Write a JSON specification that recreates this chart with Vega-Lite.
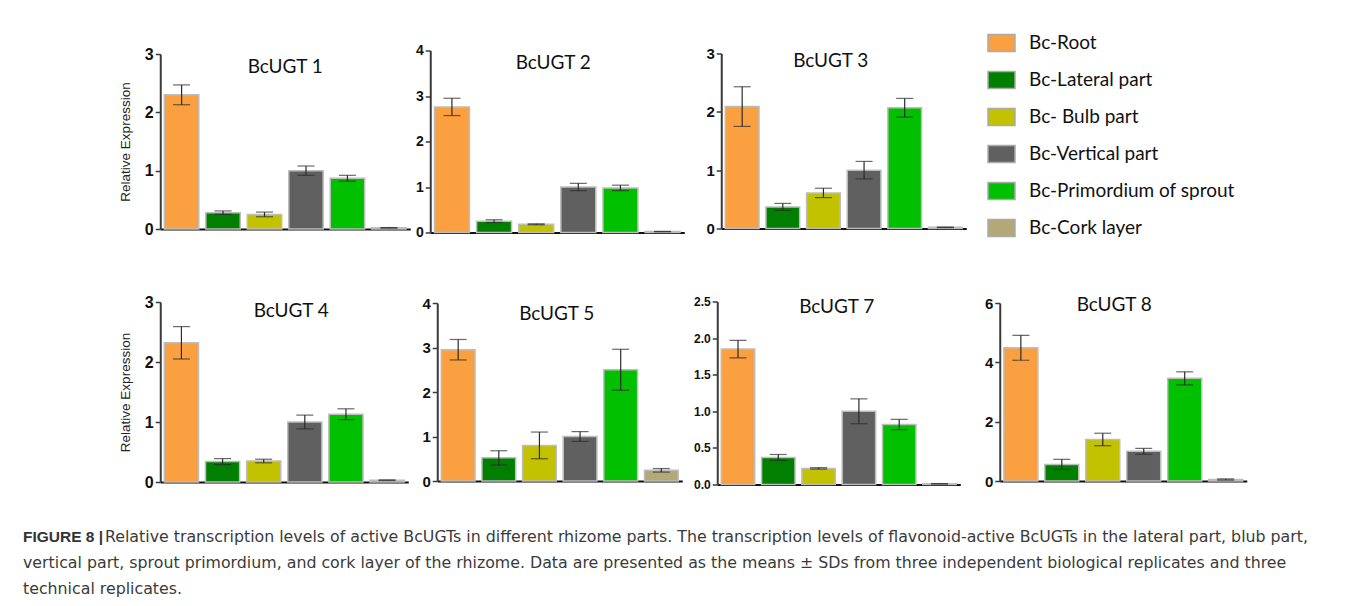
{
  "$schema": "https://vega.github.io/schema/vega-lite/v6.json",
  "background": "white",
  "padding": {"left": 23, "top": 28.5, "right": 0, "bottom": 0},
  "datasets": {
    "expr": [
      {"gene": "BcUGT 1", "part": "Bc-Root", "mean": 2.30, "sd": 0.17},
      {"gene": "BcUGT 1", "part": "Bc-Lateral part", "mean": 0.28, "sd": 0.03},
      {"gene": "BcUGT 1", "part": "Bc- Bulb part", "mean": 0.25, "sd": 0.04},
      {"gene": "BcUGT 1", "part": "Bc-Vertical  part", "mean": 1.00, "sd": 0.08},
      {"gene": "BcUGT 1", "part": "Bc-Primordium of sprout", "mean": 0.87, "sd": 0.05},
      {"gene": "BcUGT 1", "part": "Bc-Cork layer", "mean": 0.02, "sd": 0.005},
      {"gene": "BcUGT 2", "part": "Bc-Root", "mean": 2.76, "sd": 0.19},
      {"gene": "BcUGT 2", "part": "Bc-Lateral part", "mean": 0.25, "sd": 0.03},
      {"gene": "BcUGT 2", "part": "Bc- Bulb part", "mean": 0.18, "sd": 0.01},
      {"gene": "BcUGT 2", "part": "Bc-Vertical  part", "mean": 1.00, "sd": 0.08},
      {"gene": "BcUGT 2", "part": "Bc-Primordium of sprout", "mean": 0.98, "sd": 0.06},
      {"gene": "BcUGT 2", "part": "Bc-Cork layer", "mean": 0.02, "sd": 0.003},
      {"gene": "BcUGT 3", "part": "Bc-Root", "mean": 2.09, "sd": 0.34},
      {"gene": "BcUGT 3", "part": "Bc-Lateral part", "mean": 0.37, "sd": 0.06},
      {"gene": "BcUGT 3", "part": "Bc- Bulb part", "mean": 0.61, "sd": 0.08},
      {"gene": "BcUGT 3", "part": "Bc-Vertical  part", "mean": 1.00, "sd": 0.15},
      {"gene": "BcUGT 3", "part": "Bc-Primordium of sprout", "mean": 2.07, "sd": 0.16},
      {"gene": "BcUGT 3", "part": "Bc-Cork layer", "mean": 0.02, "sd": 0.005},
      {"gene": "BcUGT 4", "part": "Bc-Root", "mean": 2.32, "sd": 0.27},
      {"gene": "BcUGT 4", "part": "Bc-Lateral part", "mean": 0.34, "sd": 0.05},
      {"gene": "BcUGT 4", "part": "Bc- Bulb part", "mean": 0.35, "sd": 0.03},
      {"gene": "BcUGT 4", "part": "Bc-Vertical  part", "mean": 1.00, "sd": 0.115},
      {"gene": "BcUGT 4", "part": "Bc-Primordium of sprout", "mean": 1.13, "sd": 0.09},
      {"gene": "BcUGT 4", "part": "Bc-Cork layer", "mean": 0.03, "sd": 0.005},
      {"gene": "BcUGT 5", "part": "Bc-Root", "mean": 2.95, "sd": 0.23},
      {"gene": "BcUGT 5", "part": "Bc-Lateral part", "mean": 0.52, "sd": 0.16},
      {"gene": "BcUGT 5", "part": "Bc- Bulb part", "mean": 0.80, "sd": 0.30},
      {"gene": "BcUGT 5", "part": "Bc-Vertical  part", "mean": 1.00, "sd": 0.11},
      {"gene": "BcUGT 5", "part": "Bc-Primordium of sprout", "mean": 2.50, "sd": 0.46},
      {"gene": "BcUGT 5", "part": "Bc-Cork layer", "mean": 0.24, "sd": 0.04},
      {"gene": "BcUGT 7", "part": "Bc-Root", "mean": 1.85, "sd": 0.12},
      {"gene": "BcUGT 7", "part": "Bc-Lateral part", "mean": 0.37, "sd": 0.04},
      {"gene": "BcUGT 7", "part": "Bc- Bulb part", "mean": 0.22, "sd": 0.01},
      {"gene": "BcUGT 7", "part": "Bc-Vertical  part", "mean": 1.00, "sd": 0.17},
      {"gene": "BcUGT 7", "part": "Bc-Primordium of sprout", "mean": 0.82, "sd": 0.07},
      {"gene": "BcUGT 7", "part": "Bc-Cork layer", "mean": 0.01, "sd": 0.003},
      {"gene": "BcUGT 8", "part": "Bc-Root", "mean": 4.49, "sd": 0.42},
      {"gene": "BcUGT 8", "part": "Bc-Lateral part", "mean": 0.56, "sd": 0.17},
      {"gene": "BcUGT 8", "part": "Bc- Bulb part", "mean": 1.40, "sd": 0.21},
      {"gene": "BcUGT 8", "part": "Bc-Vertical  part", "mean": 1.00, "sd": 0.10},
      {"gene": "BcUGT 8", "part": "Bc-Primordium of sprout", "mean": 3.46, "sd": 0.22},
      {"gene": "BcUGT 8", "part": "Bc-Cork layer", "mean": 0.05, "sd": 0.02}
    ]
  },
  "spacing": 33.5,
  "center": true,
  "vconcat": [
    {
      "spacing": 54,
      "vconcat": [
        {
          "spacing": 21, "center": true,
          "hconcat": [
            {
              "spacing": 20, "bounds": "flush", "center": true,
              "hconcat": [
                {
                  "width": 250, "height": 175,
                  "title": {"text": "BcUGT 1", "offset": -31},
                  "data": {"name": "expr"},
                  "transform": [{"filter": "datum.gene === 'BcUGT 1'"}],
                  "encoding": {
                    "x": {"field": "part", "type": "nominal", "sort": ["Bc-Root", "Bc-Lateral part", "Bc- Bulb part", "Bc-Vertical  part", "Bc-Primordium of sprout", "Bc-Cork layer"], "scale": {"paddingInner": 0.17, "paddingOuter": 0.1}, "axis": {"labels": false, "ticks": false, "title": null}},
                    "y": {"field": "mean", "type": "quantitative", "title": "Relative Expression", "scale": {"domain": [0, 3], "nice": false}, "axis": {"values": [0, 1, 2, 3], "format": "d", "labelFontSize": 16}}
                  },
                  "layer": [
                    {"mark": {"type": "bar", "stroke": "#bdbdbd", "strokeWidth": 1.5},
                     "encoding": {"color": {"field": "part", "type": "nominal", "scale": {"domain": ["Bc-Root", "Bc-Lateral part", "Bc- Bulb part", "Bc-Vertical  part", "Bc-Primordium of sprout", "Bc-Cork layer"], "range": ["#FBA040", "#007F00", "#C2C200", "#606060", "#00C000", "#B3A977"]}, "legend": {"title": null}}}},
                    {"mark": {"type": "errorbar", "color": "#2b2b2b", "thickness": 1.2, "size": 17, "ticks": true},
                     "encoding": {"yError": {"field": "sd"}}}
                  ]
                },
                {
                  "width": 254, "height": 182,
                  "title": {"text": "BcUGT 2", "offset": -29.5, "dx": -4},
                  "data": {"name": "expr"},
                  "transform": [{"filter": "datum.gene === 'BcUGT 2'"}],
                  "encoding": {
                    "x": {"field": "part", "type": "nominal", "sort": ["Bc-Root", "Bc-Lateral part", "Bc- Bulb part", "Bc-Vertical  part", "Bc-Primordium of sprout", "Bc-Cork layer"], "scale": {"paddingInner": 0.17, "paddingOuter": 0.1}, "axis": {"labels": false, "ticks": false, "title": null}},
                    "y": {"field": "mean", "type": "quantitative", "title": null, "scale": {"domain": [0, 4], "nice": false}, "axis": {"values": [0, 1, 2, 3, 4], "format": "d", "labelFontSize": 14}}
                  },
                  "layer": [
                    {"mark": {"type": "bar", "stroke": "#bdbdbd", "strokeWidth": 1.5},
                     "encoding": {"color": {"field": "part", "type": "nominal", "scale": {"domain": ["Bc-Root", "Bc-Lateral part", "Bc- Bulb part", "Bc-Vertical  part", "Bc-Primordium of sprout", "Bc-Cork layer"], "range": ["#FBA040", "#007F00", "#C2C200", "#606060", "#00C000", "#B3A977"]}, "legend": {"title": null}}}},
                    {"mark": {"type": "errorbar", "color": "#2b2b2b", "thickness": 1.2, "size": 17, "ticks": true},
                     "encoding": {"yError": {"field": "sd"}}}
                  ]
                }
              ]
            },
            {
              "width": 245, "height": 175,
              "title": {"text": "BcUGT 3", "offset": -24, "dx": -13},
              "data": {"name": "expr"},
              "transform": [{"filter": "datum.gene === 'BcUGT 3'"}],
              "encoding": {
                "x": {"field": "part", "type": "nominal", "sort": ["Bc-Root", "Bc-Lateral part", "Bc- Bulb part", "Bc-Vertical  part", "Bc-Primordium of sprout", "Bc-Cork layer"], "scale": {"paddingInner": 0.17, "paddingOuter": 0.1}, "axis": {"labels": false, "ticks": false, "title": null}},
                "y": {"field": "mean", "type": "quantitative", "title": null, "scale": {"domain": [0, 3], "nice": false}, "axis": {"values": [0, 1, 2, 3], "format": "d", "labelFontSize": 15}}
              },
              "layer": [
                {"mark": {"type": "bar", "stroke": "#bdbdbd", "strokeWidth": 1.5},
                 "encoding": {"color": {"field": "part", "type": "nominal", "scale": {"domain": ["Bc-Root", "Bc-Lateral part", "Bc- Bulb part", "Bc-Vertical  part", "Bc-Primordium of sprout", "Bc-Cork layer"], "range": ["#FBA040", "#007F00", "#C2C200", "#606060", "#00C000", "#B3A977"]}, "legend": {"title": null}}}},
                {"mark": {"type": "errorbar", "color": "#2b2b2b", "thickness": 1.2, "size": 17, "ticks": true},
                 "encoding": {"yError": {"field": "sd"}}}
              ]
            }
          ]
        },
        {
          "spacing": 23.5, "center": true,
          "hconcat": [
            {
              "spacing": 11, "center": true,
              "hconcat": [
                {
                  "spacing": 29, "bounds": "flush", "center": true,
                  "hconcat": [
                    {
                      "width": 248, "height": 180,
                      "title": {"text": "BcUGT 4", "offset": -27, "dx": 7},
                      "data": {"name": "expr"},
                      "transform": [{"filter": "datum.gene === 'BcUGT 4'"}],
                      "encoding": {
                        "x": {"field": "part", "type": "nominal", "sort": ["Bc-Root", "Bc-Lateral part", "Bc- Bulb part", "Bc-Vertical  part", "Bc-Primordium of sprout", "Bc-Cork layer"], "scale": {"paddingInner": 0.17, "paddingOuter": 0.1}, "axis": {"labels": false, "ticks": false, "title": null}},
                        "y": {"field": "mean", "type": "quantitative", "title": "Relative Expression", "scale": {"domain": [0, 3], "nice": false}, "axis": {"values": [0, 1, 2, 3], "format": "d", "labelFontSize": 16}}
                      },
                      "layer": [
                        {"mark": {"type": "bar", "stroke": "#bdbdbd", "strokeWidth": 1.5},
                         "encoding": {"color": {"field": "part", "type": "nominal", "scale": {"domain": ["Bc-Root", "Bc-Lateral part", "Bc- Bulb part", "Bc-Vertical  part", "Bc-Primordium of sprout", "Bc-Cork layer"], "range": ["#FBA040", "#007F00", "#C2C200", "#606060", "#00C000", "#B3A977"]}, "legend": {"title": null}}}},
                        {"mark": {"type": "errorbar", "color": "#2b2b2b", "thickness": 1.2, "size": 17, "ticks": true},
                         "encoding": {"yError": {"field": "sd"}}}
                      ]
                    },
                    {
                      "width": 245, "height": 178,
                      "title": {"text": "BcUGT 5", "offset": -28, "dx": -3},
                      "data": {"name": "expr"},
                      "transform": [{"filter": "datum.gene === 'BcUGT 5'"}],
                      "encoding": {
                        "x": {"field": "part", "type": "nominal", "sort": ["Bc-Root", "Bc-Lateral part", "Bc- Bulb part", "Bc-Vertical  part", "Bc-Primordium of sprout", "Bc-Cork layer"], "scale": {"paddingInner": 0.17, "paddingOuter": 0.1}, "axis": {"labels": false, "ticks": false, "title": null}},
                        "y": {"field": "mean", "type": "quantitative", "title": null, "scale": {"domain": [0, 4], "nice": false}, "axis": {"values": [0, 1, 2, 3, 4], "format": "d", "labelFontSize": 15}}
                      },
                      "layer": [
                        {"mark": {"type": "bar", "stroke": "#bdbdbd", "strokeWidth": 1.5},
                         "encoding": {"color": {"field": "part", "type": "nominal", "scale": {"domain": ["Bc-Root", "Bc-Lateral part", "Bc- Bulb part", "Bc-Vertical  part", "Bc-Primordium of sprout", "Bc-Cork layer"], "range": ["#FBA040", "#007F00", "#C2C200", "#606060", "#00C000", "#B3A977"]}, "legend": {"title": null}}}},
                        {"mark": {"type": "errorbar", "color": "#2b2b2b", "thickness": 1.2, "size": 17, "ticks": true},
                         "encoding": {"yError": {"field": "sd"}}}
                      ]
                    }
                  ]
                },
                {
                  "width": 243, "height": 183,
                  "title": {"text": "BcUGT 7", "offset": -21, "dx": -2},
                  "data": {"name": "expr"},
                  "transform": [{"filter": "datum.gene === 'BcUGT 7'"}],
                  "encoding": {
                    "x": {"field": "part", "type": "nominal", "sort": ["Bc-Root", "Bc-Lateral part", "Bc- Bulb part", "Bc-Vertical  part", "Bc-Primordium of sprout", "Bc-Cork layer"], "scale": {"paddingInner": 0.17, "paddingOuter": 0.1}, "axis": {"labels": false, "ticks": false, "title": null}},
                    "y": {"field": "mean", "type": "quantitative", "title": null, "scale": {"domain": [0, 2.5], "nice": false}, "axis": {"values": [0, 0.5, 1, 1.5, 2, 2.5], "format": ".1f", "labelFontSize": 12}}
                  },
                  "layer": [
                    {"mark": {"type": "bar", "stroke": "#bdbdbd", "strokeWidth": 1.5},
                     "encoding": {"color": {"field": "part", "type": "nominal", "scale": {"domain": ["Bc-Root", "Bc-Lateral part", "Bc- Bulb part", "Bc-Vertical  part", "Bc-Primordium of sprout", "Bc-Cork layer"], "range": ["#FBA040", "#007F00", "#C2C200", "#606060", "#00C000", "#B3A977"]}, "legend": {"title": null}}}},
                    {"mark": {"type": "errorbar", "color": "#2b2b2b", "thickness": 1.2, "size": 17, "ticks": true},
                     "encoding": {"yError": {"field": "sd"}}}
                  ]
                }
              ]
            },
            {
              "width": 247, "height": 178,
              "title": {"text": "BcUGT 8", "offset": -19, "dx": -9},
              "data": {"name": "expr"},
              "transform": [{"filter": "datum.gene === 'BcUGT 8'"}],
              "encoding": {
                "x": {"field": "part", "type": "nominal", "sort": ["Bc-Root", "Bc-Lateral part", "Bc- Bulb part", "Bc-Vertical  part", "Bc-Primordium of sprout", "Bc-Cork layer"], "scale": {"paddingInner": 0.17, "paddingOuter": 0.1}, "axis": {"labels": false, "ticks": false, "title": null}},
                "y": {"field": "mean", "type": "quantitative", "title": null, "scale": {"domain": [0, 6], "nice": false}, "axis": {"values": [0, 2, 4, 6], "format": "d", "labelFontSize": 15}}
              },
              "layer": [
                {"mark": {"type": "bar", "stroke": "#bdbdbd", "strokeWidth": 1.5},
                 "encoding": {"color": {"field": "part", "type": "nominal", "scale": {"domain": ["Bc-Root", "Bc-Lateral part", "Bc- Bulb part", "Bc-Vertical  part", "Bc-Primordium of sprout", "Bc-Cork layer"], "range": ["#FBA040", "#007F00", "#C2C200", "#606060", "#00C000", "#B3A977"]}, "legend": {"title": null}}}},
                {"mark": {"type": "errorbar", "color": "#2b2b2b", "thickness": 1.2, "size": 17, "ticks": true},
                 "encoding": {"yError": {"field": "sd"}}}
              ]
            }
          ]
        }
      ]
    },
    {
      "width": 1361, "height": 78,
      "data": {"values": [
        {"line": 1, "lead": "FIGURE 8 |", "text": "Relative transcription levels of active BcUGTs in different rhizome parts. The transcription levels of flavonoid-active BcUGTs in the lateral part, blub part,"},
        {"line": 2, "lead": "", "text": "vertical part, sprout primordium, and cork layer of the rhizome. Data are presented as the means ± SDs from three independent biological replicates and three"},
        {"line": 3, "lead": "", "text": "technical replicates."}
      ]},
      "encoding": {"y": {"field": "line", "type": "ordinal", "axis": null, "scale": {"type": "point", "padding": 0.5}}},
      "layer": [
        {"transform": [{"filter": "datum.line === 1"}],
         "mark": {"type": "text", "align": "left", "baseline": "middle", "font": "Liberation Sans", "fontSize": 15.5, "fontWeight": "bold", "color": "#333"},
         "encoding": {"x": {"value": 0}, "text": {"field": "lead"}}},
        {"transform": [{"filter": "datum.line === 1"}],
         "mark": {"type": "text", "align": "left", "baseline": "middle", "font": "DejaVu Sans", "fontSize": 15.8, "color": "#3a3a3a"},
         "encoding": {"x": {"value": 82}, "text": {"field": "text"}}},
        {"transform": [{"filter": "datum.line !== 1"}],
         "mark": {"type": "text", "align": "left", "baseline": "middle", "font": "DejaVu Sans", "fontSize": 15.8, "color": "#3a3a3a"},
         "encoding": {"x": {"value": 0}, "text": {"field": "text"}}}
      ]
    }
  ],
  "config": {
    "view": {"stroke": null},
    "title": {"font": "Lato", "fontSize": 19, "fontWeight": "normal", "color": "#111", "anchor": "middle", "frame": "group"},
    "axisX": {"domainColor": "#111", "domainWidth": 2, "grid": false},
    "axisY": {"grid": false, "labelFont": "Liberation Sans", "labelFontWeight": "bold", "labelColor": "#111", "labelPadding": 2, "labelOverlap": false, "labelBound": false, "domainColor": "#3a3a3a", "domainWidth": 2, "tickColor": "#3a3a3a", "tickWidth": 1.5, "tickSize": 5, "titleFont": "Liberation Sans", "titleFontWeight": "normal", "titleFontSize": 13.5, "titleColor": "#222", "titlePadding": 12},
    "legend": {"orient": "none", "legendX": 964, "legendY": -22, "padding": 0, "symbolType": "M-1,-0.63L1,-0.63L1,0.63L-1,0.63Z", "symbolSize": 729, "symbolStrokeColor": "#aaaaaa", "symbolStrokeWidth": 1.5, "labelFont": "Lato", "labelFontSize": 19, "labelColor": "#111", "labelOffset": 13, "rowPadding": 10, "labelLimit": 400}
  }
}
